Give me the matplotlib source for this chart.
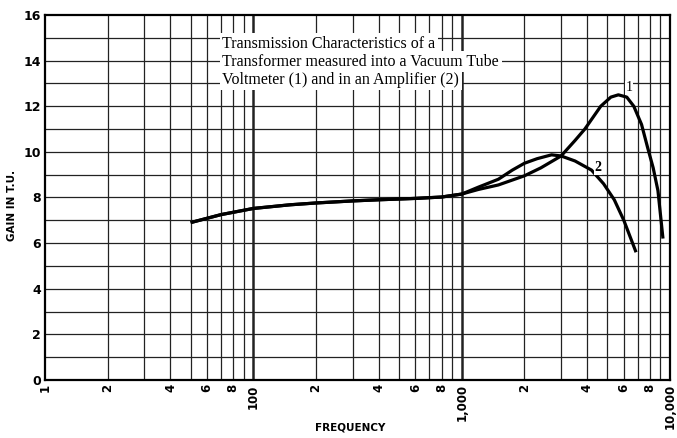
import matplotlib
matplotlib.use("Agg")
import matplotlib.pyplot as plt

# shared low-frequency part of both curves (Hz, T.U.)
low_freq = [50, 70, 100, 150, 200, 300, 400, 600, 800, 1000]
low_gain = [6.9, 7.25, 7.52, 7.68, 7.76, 7.85, 7.9, 7.96, 8.02, 8.15]

# curve 1: vacuum tube voltmeter
freq_1 = [1200, 1500, 2000, 2400, 3000, 3500, 3900, 4650, 5200, 5650, 6200, 6700, 7300, 7800, 8300, 8750, 9250]
gain_1 = [8.35, 8.55, 8.95, 9.3, 9.82, 10.5, 11.0, 12.0, 12.4, 12.5, 12.4, 12.0, 11.2, 10.2, 9.3, 8.3, 6.2]

# curve 2: amplifier
freq_2 = [1200, 1500, 1750, 2000, 2300, 2700, 3000, 3500, 4200, 4800, 5400, 6000, 6870]
gain_2 = [8.45, 8.8, 9.2, 9.5, 9.7, 9.87, 9.82, 9.6, 9.2, 8.6, 7.9, 7.0, 5.6]

xtick_pos = [10, 20, 40, 60, 80, 100, 200, 400, 600, 800, 1000, 2000, 4000, 6000, 8000, 10000]
xtick_lab = ["1", "2", "4", "6", "8", "100", "2", "4", "6", "8", "1,000", "2", "4", "6", "8", "10,000"]
ytick_pos = [0, 2, 4, 6, 8, 10, 12, 14, 16]

title_lines = ["Transmission Characteristics of a",
               "Transformer measured into a Vacuum Tube",
               "Voltmeter (1) and in an Amplifier (2)"]

fig = plt.figure(figsize=(6.77, 4.38), dpi=100)
ax = fig.add_axes([0.0665, 0.1324, 0.9232, 0.8334])
ax.set_xscale("log")
ax.set_xlim(10, 10000)
ax.set_ylim(0, 16)

# graph paper grid
for dec in [10, 100, 1000]:
    for m in range(1, 10):
        v = dec * m
        if v <= 10:
            continue
        lw = 1.8 if m == 1 else 0.9
        ax.axvline(v, color="#222222", lw=lw, zorder=1)
for yv in range(1, 16):
    ax.axhline(yv, color="#222222", lw=0.9, zorder=1)

for s in ax.spines.values():
    s.set_linewidth(1.6)

f1 = low_freq + freq_1
g1 = low_gain + gain_1
f2 = low_freq + freq_2
g2 = low_gain + gain_2
ax.plot(f1, g1, color="black", lw=2.3, solid_capstyle="butt", zorder=3)
ax.plot(f2, g2, color="black", lw=2.3, solid_capstyle="butt", zorder=3)

ax.text(6350, 12.8, "1", family="Liberation Serif", fontsize=10, ha="center", va="center",
        bbox=dict(facecolor="white", edgecolor="none", pad=0.5), zorder=4)
ax.text(4510, 9.3, "2", family="Liberation Serif", fontsize=10, fontweight="bold", ha="center", va="center",
        bbox=dict(facecolor="white", edgecolor="none", pad=0.5), zorder=4)

ty = [14.74, 13.95, 13.16]
for line, yv in zip(title_lines, ty):
    ax.text(71, yv, line, family="Liberation Serif", fontsize=11.5, ha="left", va="center",
            bbox=dict(facecolor="white", edgecolor="none", pad=2.0), zorder=4)

ax.set_xticks(xtick_pos)
ax.set_xticklabels(xtick_lab, rotation=90, fontsize=8.5, fontweight="bold", family="DejaVu Sans")
ax.xaxis.set_minor_locator(matplotlib.ticker.NullLocator())
ax.set_yticks(ytick_pos)
ax.set_yticklabels([str(v) for v in ytick_pos], fontsize=9, fontweight="bold", family="DejaVu Sans")
ax.tick_params(length=0, pad=3)

fig.text(12 / 677, 1 - 205 / 438, "GAIN IN T.U.", rotation=90, fontsize=7.5, fontweight="bold",
         ha="center", va="center")
fig.text(350 / 677, 1 - 427 / 438, "FREQUENCY", fontsize=7.5, fontweight="bold",
         ha="center", va="center")

fig.savefig("out.png", dpi=100, facecolor="white")
